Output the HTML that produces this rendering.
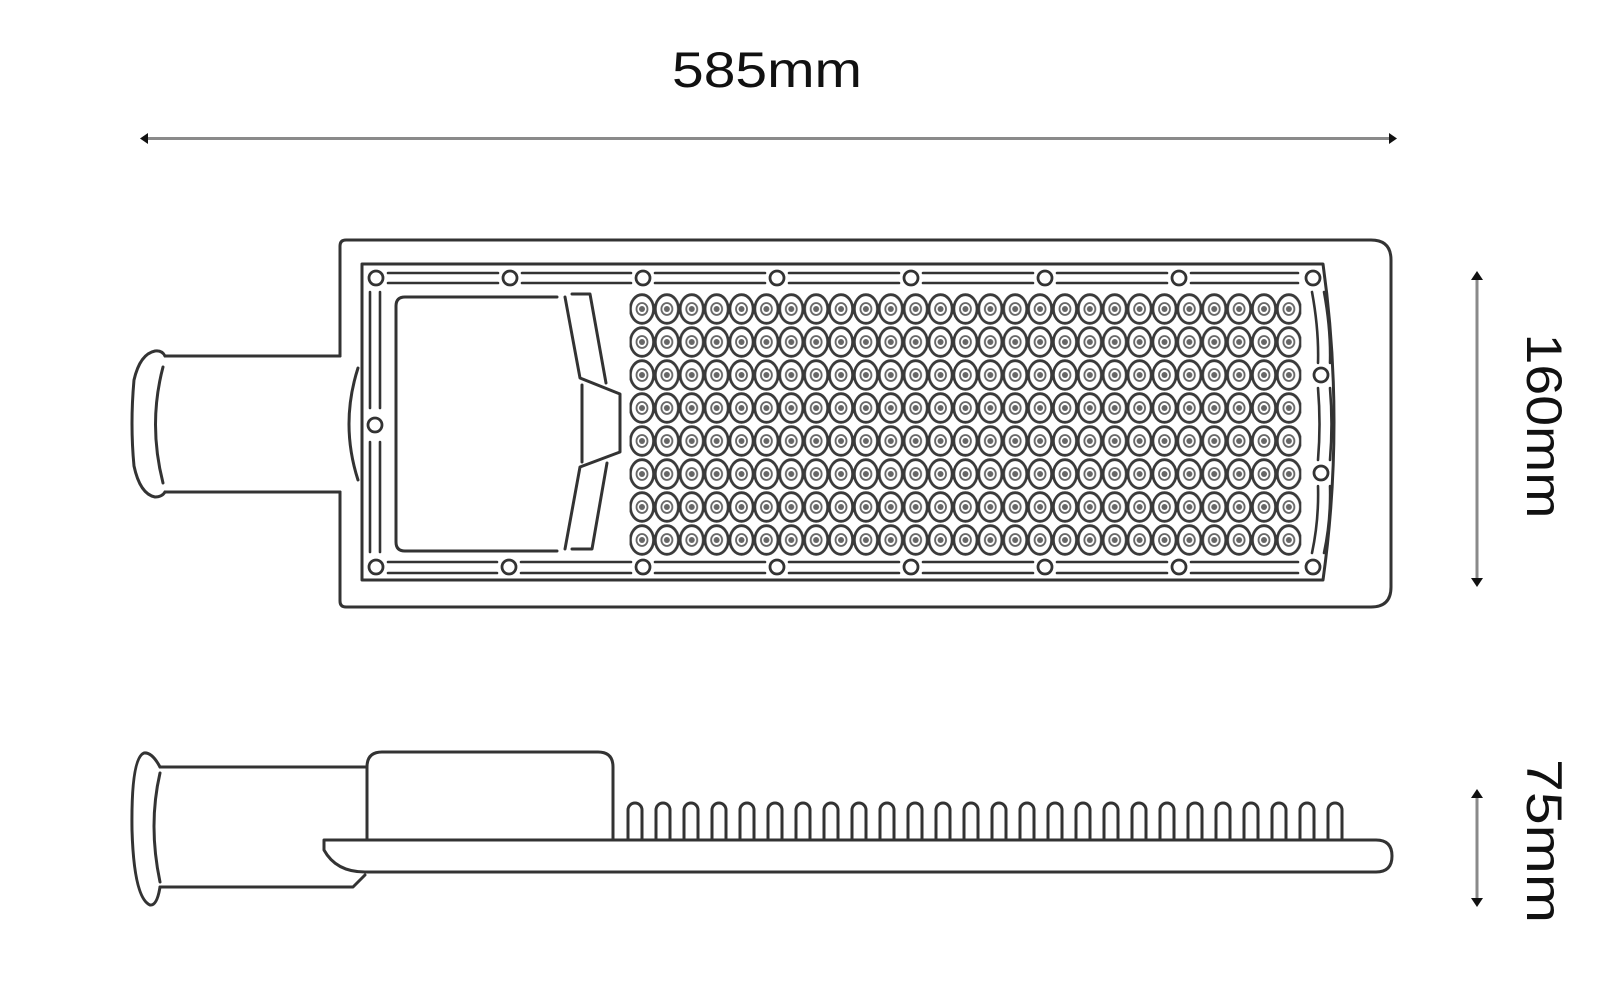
<!DOCTYPE html>
<html><head><meta charset="utf-8"><style>
html,body{margin:0;padding:0;background:#fff;}
svg{display:block;}
</style></head><body>
<svg width="1600" height="1000" viewBox="0 0 1600 1000" xmlns="http://www.w3.org/2000/svg">
<defs>
<pattern id="led" patternUnits="userSpaceOnUse" x="629.56" y="292.5" width="24.88" height="33">
<ellipse cx="12.44" cy="16.5" rx="11.6" ry="14.3" fill="none" stroke="#3a3a3a" stroke-width="2.8"/>
<ellipse cx="12.44" cy="16.5" rx="5.5" ry="6" fill="none" stroke="#666" stroke-width="1.8"/>
<circle cx="12.44" cy="16.5" r="3" fill="#666"/>
</pattern>
<pattern id="fin" patternUnits="userSpaceOnUse" x="621" y="0" width="28" height="1000">
<path d="M7,840 L7,810 A7,7 0 0 1 21,810 L21,840" fill="none" stroke="#333" stroke-width="3"/>
</pattern>
</defs>
<g fill="none" stroke="#333" stroke-width="3" stroke-linejoin="round" stroke-linecap="round">

<line x1="146" y1="138.5" x2="1391" y2="138.5" stroke="#8a8a8a" stroke-width="3"/>
<path d="M340,356 L340,246 Q340,240 346,240 L1371,240 Q1391,240 1391,260 L1391,587 Q1391,607 1371,607 L346,607 Q340,607 340,601 L340,492"/>
<path d="M340,356 L165,356"/>
<path d="M340,492 L165,492"/>
<path d="M165,356 Q162,350 155,351 Q140,354 134,380 Q130,424 134,466 Q140,494 155,497 Q162,497 165,492"/>
<path d="M163,367 Q148,424 163,483"/>
<path d="M358,368 Q340,424 358,480"/>
<path d="M362,264 L1323,264 Q1345,422 1323,580 L362,580 Z"/>
<g stroke-width="2.8">
<circle cx="376" cy="278" r="7"/><circle cx="510" cy="278" r="7"/><circle cx="643" cy="278" r="7"/><circle cx="777" cy="278" r="7"/><circle cx="911" cy="278" r="7"/><circle cx="1045" cy="278" r="7"/><circle cx="1179" cy="278" r="7"/><circle cx="1313" cy="278" r="7"/>
<circle cx="376" cy="567" r="7"/><circle cx="509" cy="567" r="7"/><circle cx="643" cy="567" r="7"/><circle cx="777" cy="567" r="7"/><circle cx="911" cy="567" r="7"/><circle cx="1045" cy="567" r="7"/><circle cx="1179" cy="567" r="7"/><circle cx="1313" cy="567" r="7"/>
<circle cx="375" cy="425" r="7"/>
<circle cx="1321" cy="375" r="7"/><circle cx="1321" cy="473" r="7"/>
</g>
<g stroke-width="2.6">
<path d="M388,273H498M388,283H498M522,273H631M522,283H631M655,273H765M655,283H765M789,273H899M789,283H899M923,273H1033M923,283H1033M1057,273H1167M1057,283H1167M1191,273H1298M1191,283H1298"/>
<path d="M388,562H497M388,573H497M521,562H631M521,573H631M655,562H765M655,573H765M789,562H899M789,573H899M923,562H1033M923,573H1033M1057,562H1167M1057,573H1167M1191,562H1298M1191,573H1298"/>
<path d="M370,292V408M380,292V408M370,442V552M380,442V552"/>
<path d="M1312,292 Q1319,330 1318,363M1324,292 Q1331,330 1330,363M1318,388 Q1321,424 1318,460M1330,388 Q1333,424 1330,460M1318,486 Q1319,520 1312,553M1330,486 Q1331,520 1324,553"/>
</g>
<path d="M557,297 L405,297 Q396,297 396,306 L396,542 Q396,551 405,551 L557,551"/>
<path d="M572,294 L590,294 L606,383"/>
<path d="M565,297 L580,378 L620,394 L620,452 L580,467 L565,549"/>
<path d="M582,385 L582,462"/>
<path d="M607,463 L592,549 L572,549"/>
</g>
<rect x="629.56" y="292.5" width="671.76" height="264" fill="url(#led)"/>

<g fill="none" stroke="#333" stroke-width="3" stroke-linejoin="round" stroke-linecap="round">
<path d="M367,840 L367,767 Q367,752 382,752 L598,752 Q613,752 613,767 L613,840"/>
<path d="M324,840 L1376,840 Q1392,840 1392,856 Q1392,872 1376,872 L365,872 Q336,872 324,850 L324,840"/>
<path d="M367,767 L160,767"/>
<path d="M160,767 Q152,752 144,753 Q131,758 132,830 Q134,898 150,905 Q157,906 160,887"/>
<path d="M160,773 Q148,825 160,882"/>
<path d="M160,887 L353,887 L365,875"/>
</g>
<rect x="621" y="790" width="728" height="52" fill="url(#fin)"/>

<line x1="1477" y1="278" x2="1477" y2="580" stroke="#8a8a8a" stroke-width="3"/>
<line x1="1477" y1="796" x2="1477" y2="900" stroke="#8a8a8a" stroke-width="3"/>
<g fill="#111">
<path d="M140,138.5 L148,133 L148,144 Z"/>
<path d="M1397,138.5 L1389,133 L1389,144 Z"/>
<path d="M1477,271 L1471,280 L1483,280 Z"/>
<path d="M1477,587 L1471,578 L1483,578 Z"/>
<path d="M1477,789 L1471,798 L1483,798 Z"/>
<path d="M1477,907 L1471,898 L1483,898 Z"/>
</g>
<g fill="#111" font-family="Liberation Sans, sans-serif" font-size="50">
<text x="672" y="87" textLength="190" lengthAdjust="spacingAndGlyphs">585mm</text>
<text transform="translate(1527,426) rotate(90)" text-anchor="middle" textLength="185" lengthAdjust="spacingAndGlyphs">160mm</text>
<text transform="translate(1527,841) rotate(90)" text-anchor="middle" textLength="164" lengthAdjust="spacingAndGlyphs">75mm</text>
</g>
</svg>
</body></html>
